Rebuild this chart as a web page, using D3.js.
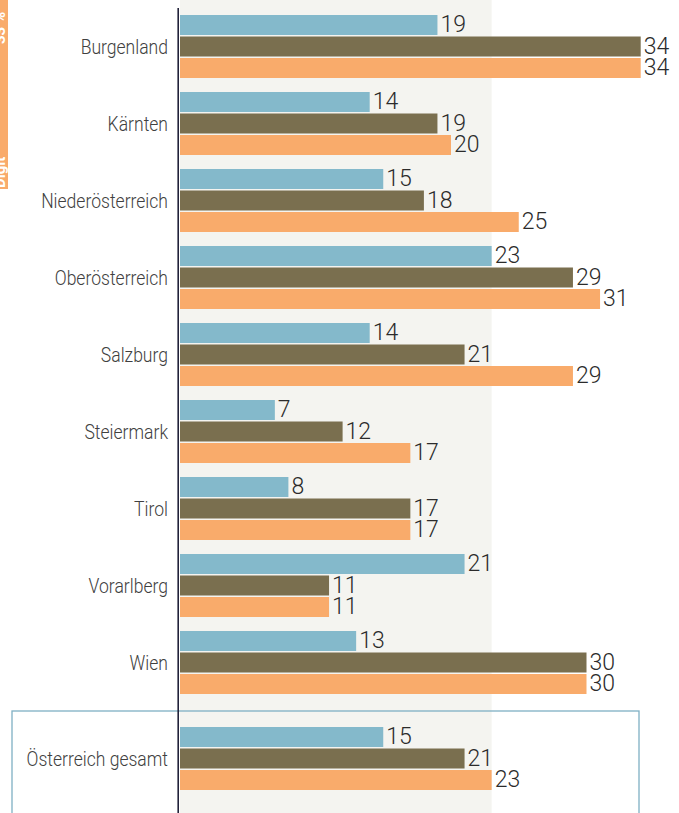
<!DOCTYPE html>
<html>
<head>
<meta charset="utf-8">
<script src="https://cdn.jsdelivr.net/npm/d3@7"></script>
<style>
  body { margin: 0; background: #fff; }
  svg { display: block; }
</style>
</head>
<body>
<div id="chart"></div>
<script>
var categories = ["Burgenland", "Kärnten", "Niederösterreich", "Oberösterreich", "Salzburg",
  "Steiermark", "Tirol", "Vorarlberg", "Wien", "Österreich gesamt"];
var seriesBlue = [19, 14, 15, 23, 14, 7, 8, 21, 13, 15];
var seriesOlive = [34, 19, 18, 29, 21, 12, 17, 11, 30, 21];
var seriesOrange = [34, 20, 25, 31, 29, 17, 17, 11, 30, 23];
var bandValue = 23; // shaded area up to the Austria total

var width = 679,
  height = 813;

var colors = ["#84b9cb", "#7a6f4f", "#f9ab6b"];
var series = [seriesBlue, seriesOlive, seriesOrange];

var x = d3.scaleLinear()
  .domain([0, 34])
  .range([180, 640.7]);

var regions = categories.slice(0, 9);
var yGroup = d3.scaleBand()
  .domain(regions)
  .range([15, 15 + 9 * 77]);

// total row sits a little lower than the regions
var groupTop = function(d, i) {
  return i < 9 ? yGroup(d) : yGroup.range()[1] + 19;
};

var ySub = d3.scaleBand()
  .domain([0, 1, 2])
  .range([0, 63])
  .paddingInner(0.07);

var svg = d3.select("#chart").append("svg")
  .attr("width", width)
  .attr("height", height);

// shaded background band
svg.append("rect")
  .attr("x", x(0))
  .attr("y", 0)
  .attr("width", x(bandValue) - x(0))
  .attr("height", height)
  .attr("fill", "#f4f4f0");

// orange side tab
svg.append("rect")
  .attr("x", 0)
  .attr("y", 0)
  .attr("width", 8)
  .attr("height", 189)
  .attr("fill", "#f9ab6b");

svg.append("text")
  .attr("transform", "translate(5,188) rotate(-90)")
  .attr("fill", "#fff")
  .attr("font-family", "Roboto, sans-serif")
  .attr("font-weight", "bold")
  .attr("font-size", 15)
  .text("Digit");

svg.append("text")
  .attr("transform", "translate(5,44) rotate(-90)")
  .attr("fill", "#fff")
  .attr("font-family", "Roboto, sans-serif")
  .attr("font-weight", "bold")
  .attr("font-size", 15)
  .text("33 %");

var groups = svg.selectAll(".group")
  .data(categories)
  .enter().append("g")
  .attr("class", "group")
  .attr("transform", function(d, i) {
    return "translate(0," + groupTop(d, i) + ")";
  });

groups.each(function(cat, i) {
  var g = d3.select(this);
  var vals = series.map(function(s) { return s[i]; });

  g.selectAll("rect")
    .data(vals)
    .enter().append("rect")
    .attr("x", x(0))
    .attr("y", function(d, j) { return ySub(j); })
    .attr("width", function(d) { return x(d) - x(0); })
    .attr("height", ySub.bandwidth())
    .attr("fill", function(d, j) { return colors[j]; });

  g.selectAll(".val")
    .data(vals)
    .enter().append("text")
    .attr("class", "val")
    .attr("x", function(d) { return x(d) + 3; })
    .attr("y", function(d, j) { return ySub(j) + 17; })
    .attr("font-family", "Roboto, sans-serif")
    .attr("font-weight", 300)
    .attr("font-size", 23)
    .attr("fill", "#2b2b2b")
    .text(function(d) { return d; });

  // condensed look: squeeze Roboto horizontally
  g.append("text")
    .attr("transform", "translate(168,32) scale(0.9,1)")
    .attr("dy", "0.35em")
    .attr("text-anchor", "end")
    .attr("font-family", "Roboto, sans-serif")
    .attr("font-weight", 300)
    .attr("font-size", 19.5)
    .attr("fill", "#404040")
    .text(cat);
});

// box round the total
var totalTop = yGroup.range()[1] + 19;
svg.append("rect")
  .attr("x", 12)
  .attr("y", totalTop - 16)
  .attr("width", 627)
  .attr("height", 200)
  .attr("fill", "none")
  .attr("stroke", "#7fb0c4")
  .attr("stroke-width", 1.3);

// axis line
svg.append("line")
  .attr("x1", 178.2)
  .attr("x2", 178.2)
  .attr("y1", 8)
  .attr("y2", height)
  .attr("stroke", "#22223a")
  .attr("stroke-width", 1.6);
</script>
</body>
</html>
